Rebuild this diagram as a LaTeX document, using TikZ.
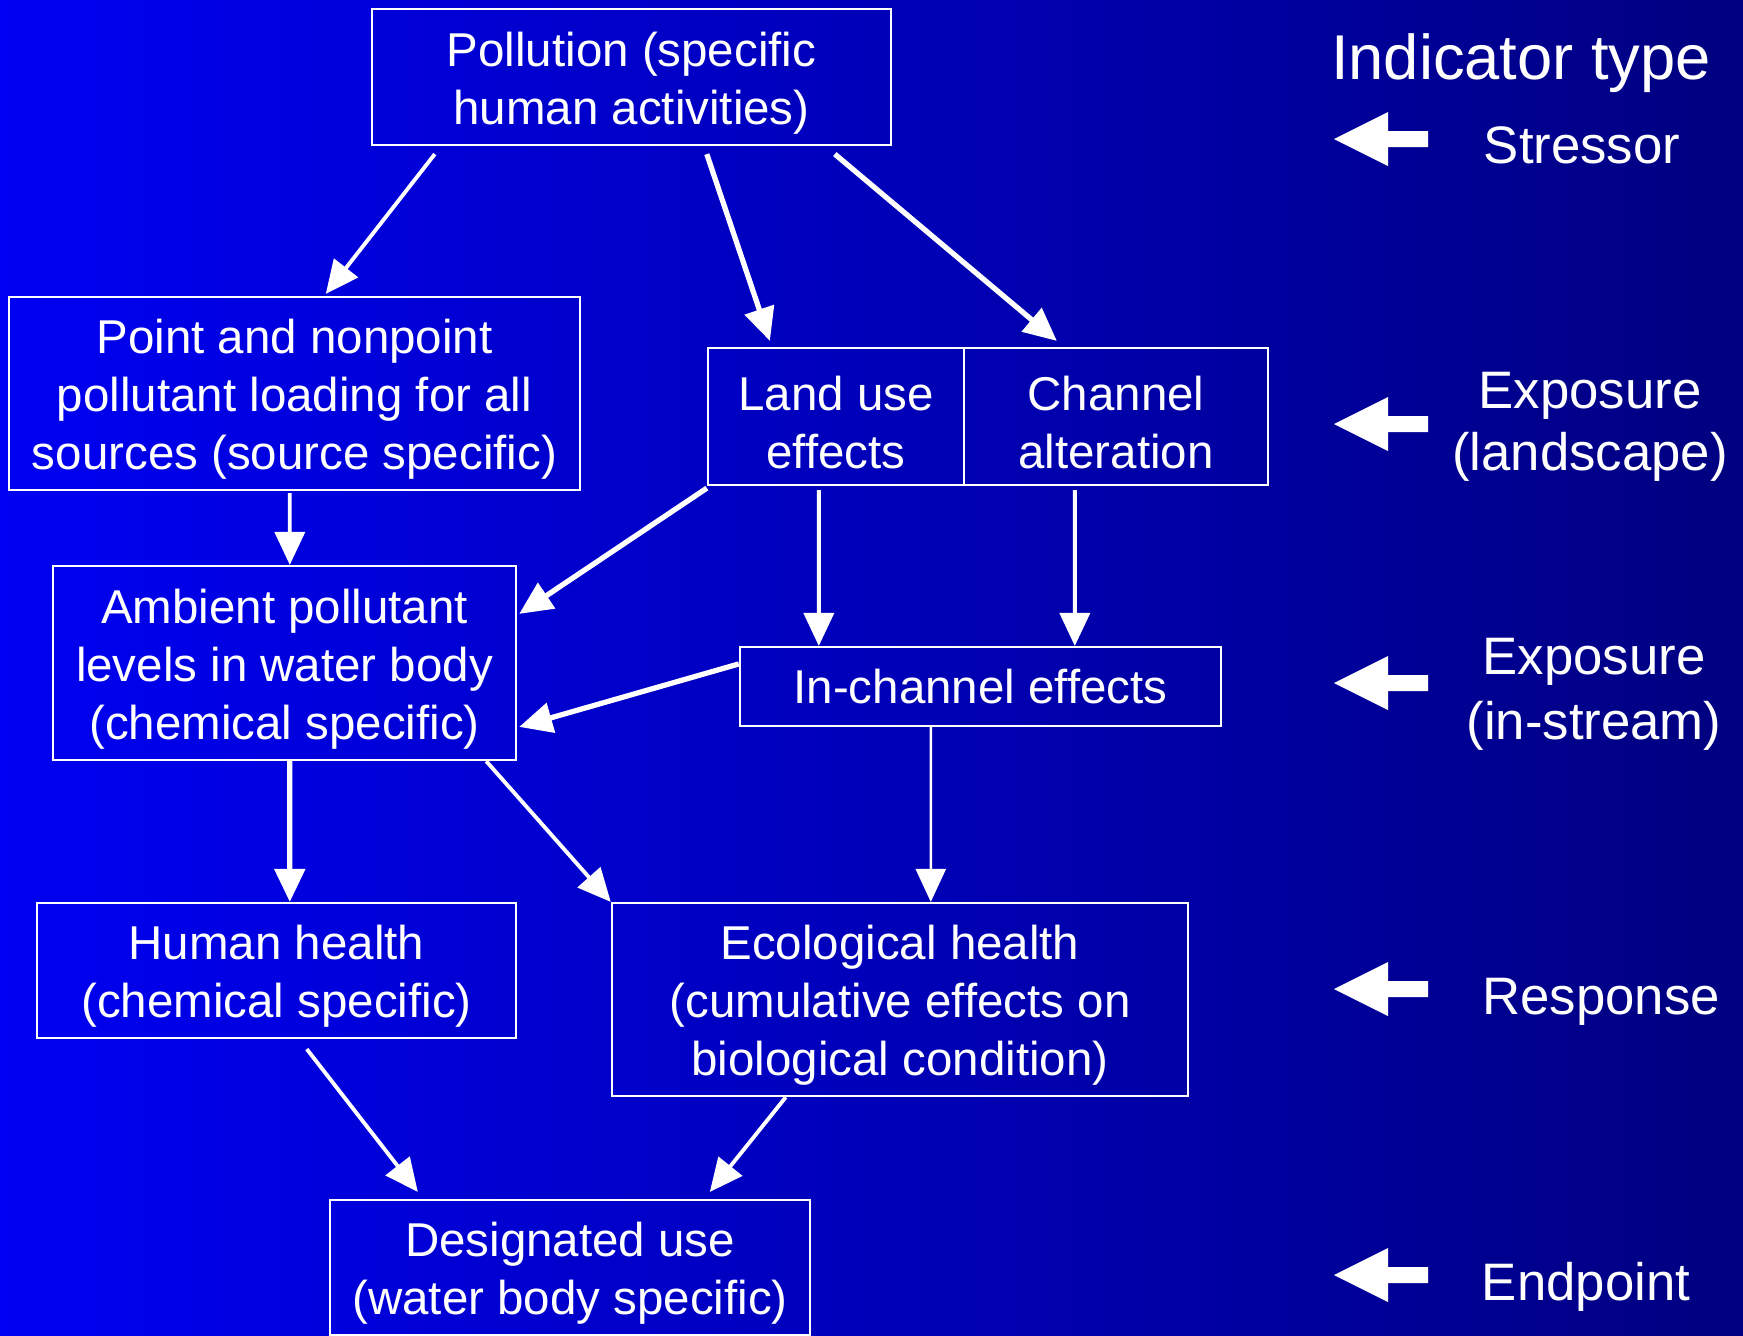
\documentclass[tikz,border=0pt]{standalone}
\usepackage{fontspec}
\setmainfont{Liberation Sans}
\usetikzlibrary{arrows.meta,calc}

\definecolor{bgleft}{RGB}{0,0,242}
\definecolor{bgright}{RGB}{0,0,128}

% raises the first line so the text sits a little lower in its box
\newcommand{\topgap}{\rule{0pt}{13.2pt}}

\tikzset{
    box/.style={draw=white, line width=0.6pt, text=white, align=center, inner sep=0pt,
        font=\fontsize{13.5}{16.5}\selectfont},
    conn/.style={draw=white, line width=1.1pt, -{Triangle[length=0.33cm,width=0.3cm]}},
    connthick/.style={conn, line width=1.5pt},
    connthin/.style={conn, line width=0.7pt},
    typelabel/.style={text=white, align=center, font=\fontsize{15}{17.5}\selectfont},
    typearrow/.style={fill=white}
}

\begin{document}
\begin{tikzpicture}[x=0.01cm, y=-0.01cm]
        \shade[left color=bgleft, right color=bgright] (0,0) rectangle (1743,1335);
        \useasboundingbox (0,0) rectangle (1743,1335);

        % boxes
        \node[box, minimum width=5.19cm, minimum height=1.36cm] (poll) at (631.5,77) {\topgap Pollution (specific\\human activities)};
        \node[box, minimum width=5.71cm, minimum height=1.93cm] (point) at (294.5,393.5) {\topgap Point and nonpoint\\pollutant loading for all\\sources (source specific)};
        \node[box, minimum width=2.56cm, minimum height=1.37cm] (land) at (836,416.5) {\topgap Land use\\effects};
        \node[box, minimum width=3.04cm, minimum height=1.37cm] (chan) at (1116,416.5) {\topgap Channel\\alteration};
        \node[box, minimum width=4.63cm, minimum height=1.94cm] (amb) at (284.5,663) {\topgap Ambient pollutant\\levels in water body\\(chemical specific)};
        \node[box, minimum width=4.81cm, minimum height=0.79cm] (inch) at (980.5,686.5) {In-channel effects};
        \node[box, minimum width=4.79cm, minimum height=1.35cm] (human) at (276.5,970.5) {\topgap Human health\\(chemical specific)};
        \node[box, minimum width=5.76cm, minimum height=1.93cm] (eco) at (900,999.5) {\topgap Ecological health\\(cumulative effects on\\biological condition)};
        \node[box, minimum width=4.80cm, minimum height=1.35cm] (desig) at (570,1267.5) {\topgap Designated use\\(water body specific)};

        % connectors
        \draw[conn] ($(poll.south west)+(64,8)$) -- ($(point.north west)+(318,-2)$);
        \draw[connthick] ($(poll.south west)+(336,8)$) -- ($(land.north west)+(63,-6)$);
        \draw[connthick] ($(poll.south west)+(464,8)$) -- ($(chan.north west)+(94,-6)$);
        \draw[conn] ($(point.south west)+(282,2)$) -- ($(amb.north west)+(238,0)$);
        \draw[connthick] ($(land.south west)+(0,2)$) -- ($(amb.north east)+(2,49)$);
        \draw[conn] ($(land.south west)+(112,4)$) -- ($(inch.north west)+(80,0)$);
        \draw[conn] ($(chan.south west)+(112,4)$) -- ($(inch.north west)+(336,0)$);
        \draw[connthick] ($(inch.north west)+(0,18)$) -- ($(amb.north east)+(2,162)$);
        \draw[connthick] ($(amb.south west)+(238,0)$) -- ($(human.north west)+(254,0)$);
        \draw[conn] ($(amb.south east)+(-31,0)$) -- (eco.north west);
        \draw[connthin] ($(inch.south west)+(192,0)$) -- ($(eco.north west)+(320,0)$);
        \draw[conn] ($(human.south west)+(271,10)$) -- ($(desig.north west)+(89,-7)$);
        \draw[conn] ($(eco.south west)+(175,0)$) -- ($(desig.north west)+(381,-7)$);

        % indicator types
        \node[typelabel, font=\fontsize{18}{21}\selectfont] (title) at (1521,63) {Indicator type};
        \node[typelabel] (stress) at (1582,145) {Stressor};
        \node[typelabel] (explnd) at (1590,427) {Exposure\\(landscape)};
        \node[typelabel, font=\fontsize{15}{18.6}\selectfont] (expstr) at (1594,694) {Exposure\\(in-stream)};
        \node[typelabel] (resp) at (1601,1002) {Response};
        \node[typelabel] (endp) at (1586,1287) {Endpoint};

        \foreach \y in {139,424,683,989,1275}
            \fill[typearrow] (1334,\y) -- (1388,\y-27) -- (1388,\y-8) -- (1428,\y-8)
                -- (1428,\y+8) -- (1388,\y+8) -- (1388,\y+27) -- cycle;
    \end{tikzpicture}
\end{document}
